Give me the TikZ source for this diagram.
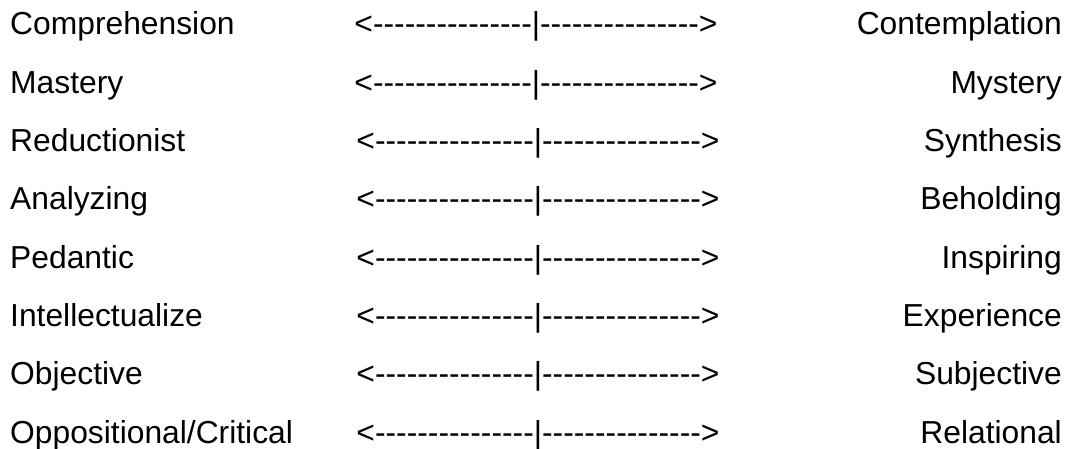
\documentclass[tikz,border=0pt]{standalone}
\usepackage{fontspec}
\setmainfont{Liberation Sans}[Ligatures=TeXOff]
\usepackage{tikz}
\newcommand{\scalebar}{<---------------|--------------->}

\begin{document}
\begin{tikzpicture}[x=1pt, y=1pt,
    every node/.style={inner sep=0pt, font=\fontsize{31.8}{36}\selectfont},
    leftword/.style={anchor=base west},
    rightword/.style={anchor=base east},
    midbar/.style={anchor=base}]
    \useasboundingbox (0,0) rectangle (1072,-449);
    % left column
    \node[leftword] (l1) at (10,-35)    {Comprehension};
    \node[leftword] (l2) at (10,-93.3)  {Mastery};
    \node[leftword] (l3) at (10,-151.6) {Reductionist};
    \node[leftword] (l4) at (10,-209.9) {Analyzing};
    \node[leftword] (l5) at (10,-268.2) {Pedantic};
    \node[leftword] (l6) at (10,-326.5) {Intellectualize};
    \node[leftword] (l7) at (10,-384.8) {Objective};
    \node[leftword] (l8) at (10,-443.1) {Oppositional/Critical};
    % middle scales
    \node[midbar] (m1) at (536,-35)    {\scalebar};
    \node[midbar] (m2) at (536,-93.3)  {\scalebar};
    \node[midbar] (m3) at (538,-151.6) {\scalebar};
    \node[midbar] (m4) at (538,-209.9) {\scalebar};
    \node[midbar] (m5) at (538,-268.2) {\scalebar};
    \node[midbar] (m6) at (538,-326.5) {\scalebar};
    \node[midbar] (m7) at (538,-384.8) {\scalebar};
    \node[midbar] (m8) at (538,-443.1) {\scalebar};
    % right column
    \node[rightword] (r1) at (1062,-35)    {Contemplation};
    \node[rightword] (r2) at (1062,-93.3)  {Mystery};
    \node[rightword] (r3) at (1062,-151.6) {Synthesis};
    \node[rightword] (r4) at (1062,-209.9) {Beholding};
    \node[rightword] (r5) at (1062,-268.2) {Inspiring};
    \node[rightword] (r6) at (1062,-326.5) {Experience};
    \node[rightword] (r7) at (1062,-384.8) {Subjective};
    \node[rightword] (r8) at (1062,-443.1) {Relational};
\end{tikzpicture}
\end{document}
